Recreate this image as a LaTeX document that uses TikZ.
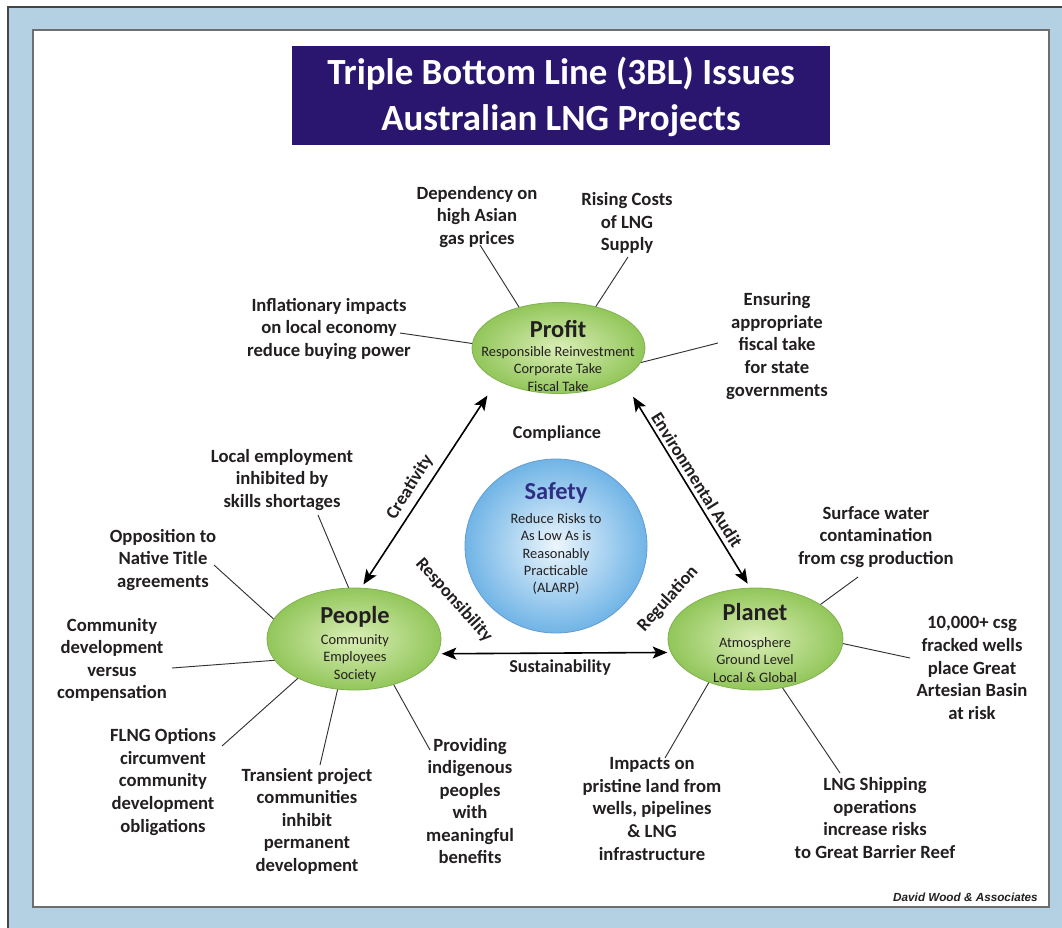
\documentclass[tikz,border=0pt]{standalone}
\usepackage{fontspec}
\setmainfont{Carlito}
\newfontfamily\arialfont{Liberation Sans}
\usetikzlibrary{shapes.geometric,arrows.meta}
\definecolor{framebg}{RGB}{179,209,226}
\definecolor{framedark}{RGB}{70,70,70}
\definecolor{panelline}{RGB}{110,110,110}
\definecolor{titlebg}{RGB}{42,22,110}
\definecolor{gin}{RGB}{218,238,182}
\definecolor{gout}{RGB}{146,198,90}
\definecolor{gline}{RGB}{128,178,78}
\definecolor{bin}{RGB}{236,246,253}
\definecolor{bout}{RGB}{112,180,230}
\definecolor{bline}{RGB}{96,156,210}
\definecolor{issuecol}{RGB}{35,31,32}
\definecolor{conncol}{RGB}{50,50,50}
\definecolor{safetycol}{RGB}{46,46,130}
\begin{document}
\begin{tikzpicture}[x=0.75pt,y=-0.75pt,
  issue/.style={align=center,font=\fontsize{14}{16.9}\selectfont\bfseries,text=issuecol,inner sep=0},
  lbl/.style={font=\fontsize{13.6}{16}\selectfont\bfseries,text=issuecol,inner sep=0},
  ttl/.style={font=\fontsize{18.3}{22}\selectfont\bfseries,text=issuecol,inner sep=0},
  sub/.style={align=center,font=\fontsize{10.8}{13.1}\selectfont,text=issuecol,inner sep=0},
  gell/.style={ellipse,draw=gline,line width=0.6pt,inner color=gin,outer color=gout,inner sep=0},
  conn/.style={draw=conncol,line width=0.7pt},
  arr/.style={draw=black,line width=1.2pt,{Stealth[length=11pt,width=9pt,inset=2.5pt]}-{Stealth[length=11pt,width=9pt,inset=2.5pt]}}]
\useasboundingbox (0,0) rectangle (1062,927);
\fill[white] (0,0) rectangle (1062,927);
\draw[fill=framebg,draw=framedark,line width=1.5pt] (7.5,7.5) rectangle (1075,940);
\draw[fill=white,draw=panelline,line width=0.8pt] (33,30) rectangle (1049,907);
% title
\node[fill=titlebg,inner sep=0,minimum width=403.5pt,minimum height=74.25pt] (titlebox) at (561,95.5) {};
\node[align=center,text=white,font=\fontsize{27.7}{35}\selectfont\bfseries,inner sep=0] (title) at (561,97) {Triple Bottom Line (3BL) Issues\\Australian LNG Projects};
% main shapes
\node[gell,minimum width=129.75pt,minimum height=68.25pt] (profit) at (558.5,348) {};
\node[gell,minimum width=130.5pt,minimum height=76.5pt] (people) at (354,639) {};
\node[gell,minimum width=131.25pt,minimum height=76.5pt] (planet) at (755.5,639) {};
\node[ellipse,draw=bline,line width=0.6pt,inner color=bin,outer color=bout,inner sep=0,minimum width=136.5pt,minimum height=130.5pt] (safety) at (556,546) {};
% texts in shapes
\node[ttl] (profitT) at (558,329) {Profit};
\node[sub] (profitS) at (558,369) {Responsible Reinvestment\\Corporate Take\\Fiscal Take};
\node[ttl] (peopleT) at (355,617) {People};
\node[sub] (peopleS) at (355,658) {Community\\Employees\\Society};
\node[ttl] (planetT) at (755,612) {Planet};
\node[sub] (planetS) at (755,660) {Atmosphere\\Ground Level\\Local \& Global};
\node[ttl,text=safetycol] (safetyT) at (556,493) {Safety};
\node[sub] (safetyS) at (556,554) {Reduce Risks to\\As Low As is\\Reasonably\\Practicable\\(ALARP)};
% arrows
\draw[arr,shorten <=13.5pt,shorten >=3pt] (profit.-152) -- (people.82);
\draw[arr,shorten <=15.5pt,shorten >=3.5pt] (profit.-26) -- (planet.96);
\draw[arr,shorten <=3pt,shorten >=2.5pt] (people.-10) -- (planet.189);
% arrow labels
\node[lbl] (compliance) at (557,434) {Compliance};
\node[lbl] (sustain) at (560,668) {Sustainability};
\node[lbl,rotate=58] (creat) at (410,487) {Creativity};
\node[lbl,rotate=-48] (resp) at (454,600) {Responsibility};
\node[lbl,rotate=48] (regul) at (668,599) {Regulation};
\node[lbl,rotate=-58] (envaud) at (697,480) {Environmental Audit};
% issues
\node[issue] (i1) at (477,217) {Dependency on\\high Asian\\gas prices};
\node[issue] (i2) at (627,223) {Rising Costs\\of LNG\\Supply};
\node[issue] (i3) at (329,329) {Inflationary impacts\\on local economy\\reduce buying power};
\node[issue] (i4) at (777,346) {Ensuring\\appropriate\\fiscal take\\for state\\governments};
\node[issue] (i5) at (282,480) {Local employment\\inhibited by\\skills shortages};
\node[issue] (i6) at (163,560) {Opposition to\\Native Title\\agreements};
\node[issue] (i7) at (112,660) {Community\\development\\versus\\compensation};
\node[issue] (i8) at (163,782) {FLNG Options\\circumvent\\community\\development\\obligations};
\node[issue] (i9) at (307,821) {Transient project\\communities\\inhibit\\permanent\\development};
\node[issue] (i10) at (470,801) {Providing\\indigenous\\peoples\\with\\meaningful\\benefits};
\node[issue] (i11) at (876,537) {Surface water\\contamination\\from csg production};
\node[issue] (i12) at (972,668) {10,000+ csg\\fracked wells\\place Great\\Artesian Basin\\at risk};
\node[issue] (i13) at (652,809) {Impacts on\\pristine land from\\wells, pipelines\\\& LNG\\infrastructure};
\node[issue] (i14) at (875,818) {LNG Shipping\\operations\\increase risks\\to Great Barrier Reef};
% connector free ends
\coordinate (c1) at (480,245);
\coordinate (c2) at (628,257);
\coordinate (c3) at (400,333);
\coordinate (c4) at (718,343);
\coordinate (c5) at (318,515);
\coordinate (c6) at (214,565);
\coordinate (c7) at (172,668);
\coordinate (c8) at (222,746);
\coordinate (c9) at (320,765);
\coordinate (c10) at (430,750);
\coordinate (c11) at (858,577);
\coordinate (c12) at (910,658);
\coordinate (c13) at (665,758);
\coordinate (c14) at (840,773);
\draw[conn] (c1) -- (profit.134);
\draw[conn] (c2) -- (profit.48);
\draw[conn] (c3) -- (profit.177);
\draw[conn] (c4) -- (profit.-10);
\draw[conn] (c5) -- (people.96);
\draw[conn] (c6) -- (people.166);
\draw[conn] (c7) -- (people.-165);
\draw[conn] (c8) -- (people.-145);
\draw[conn] (c9) -- (people.-108);
\draw[conn] (c10) -- (people.-49);
\draw[conn] (c11) -- (planet.28);
\draw[conn] (c12) -- (planet.-3);
\draw[conn] (c13) -- (planet.-137);
\draw[conn] (c14) -- (planet.-61);
% credit
\node[font=\arialfont\bfseries\itshape\fontsize{8.8}{10}\selectfont,text=issuecol,anchor=east,inner sep=0] (credit) at (1038,897) {David Wood \& Associates};
\end{tikzpicture}
\end{document}
